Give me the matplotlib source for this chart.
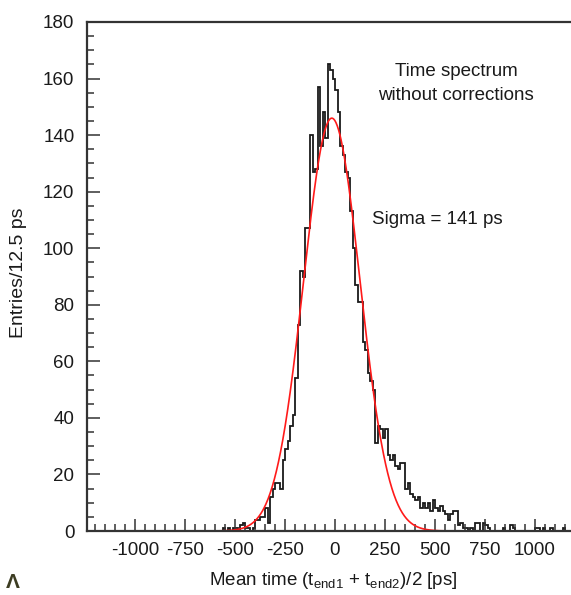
import numpy as np
import matplotlib
matplotlib.use("Agg")
import matplotlib.pyplot as plt
from matplotlib.ticker import MultipleLocator

plt.rcParams["font.family"] = ["Liberation Sans", "DejaVu Sans"]
plt.rcParams["axes.unicode_minus"] = False

# ── data ────────────────────────────────────────────────
bin_width = 12.5          # ps
first_edge = -600.0       # left edge of first listed bin
counts = [
    0, 0, 0, 1, 0, 1, 0, 1,            # -600 ..
    1, 0, 2, 3, 1, 1, 0, 1,            # -500 ..
    4, 4, 5, 5, 8, 3, 12, 15,          # -400 ..
    17, 17, 15, 25, 29, 32, 37, 41,    # -300 ..
    54, 73, 92, 90, 107, 107, 140, 127,  # -200 ..
    128, 157, 136, 148, 139, 165, 163, 160,  # -100 ..
    156, 148, 136, 133, 127, 125, 113, 100,  # 0 ..
    87, 81, 81, 67, 64, 56, 53, 50,    # 100 ..
    31, 37, 36, 33, 36, 27, 25, 27,    # 200 ..
    23, 22, 24, 24, 15, 17, 13, 12,    # 300 ..
    11, 12, 8, 10, 8, 10, 7, 11,       # 400 ..
    8, 7, 9, 7, 6, 4, 6, 7,            # 500 ..
    7, 2, 3, 1, 1, 0, 1, 0,            # 600 ..
    3, 3, 0, 3, 2, 1, 0, 0,            # 700 ..
    0, 0, 0, 1, 0, 0, 2, 1,            # 800 ..
    0, 0, 0, 0, 0, 0, 0, 0,            # 900 ..
    1, 1, 0, 1, 0, 0, 1, 0,            # 1000 ..
    0, 0, 0, 1,                        # 1100 ..
]

# gaussian fit parameters
fit_amp = 146.0
fit_mean = -16.0
fit_sigma = 141.0

x_range = (-1250.0, 1250.0)
x_ticks = [-1000, -750, -500, -250, 0, 250, 500, 750, 1000]

# ── histogram over the full range ──────────────────────
edges = np.arange(x_range[0], x_range[1] + bin_width / 2, bin_width)
full = np.zeros(len(edges) - 1)
i0 = int(round((first_edge - x_range[0]) / bin_width))
full[i0:i0 + len(counts)] = counts

xf = np.linspace(x_range[0], x_range[1], 1200)
yf = fit_amp * np.exp(-0.5 * ((xf - fit_mean) / fit_sigma) ** 2)

# ── figure ─────────────────────────────────────────────
W, H = 571, 595
fig = plt.figure(figsize=(W / 100, H / 100), dpi=100)

ax_l, ax_r, ax_t, ax_b = 87, 583, 22, 531
aw, ah = ax_r - ax_l, ax_b - ax_t
ax = fig.add_axes([ax_l / W, 1 - ax_b / H, aw / W, ah / H])

ax.stairs(full, edges, color="#1a1a1a", lw=1.3)
ax.plot(xf, yf, color="#ff1a1a", lw=1.2)

ax.set_xlim(-1240, 1240)
ax.set_ylim(0, 180)

ax.set_xticks(x_ticks)
ax.set_xticklabels([str(v) for v in x_ticks])
ax.xaxis.set_minor_locator(MultipleLocator(50))
ax.yaxis.set_major_locator(MultipleLocator(20))
ax.yaxis.set_minor_locator(MultipleLocator(5))

ax.tick_params(which="both", direction="in", top=False, right=False,
               colors="#333333", labelcolor="#1a1a1a", labelsize=13.5, width=1.1)
ax.tick_params(which="major", length=9)
ax.tick_params(which="minor", length=5)
ax.tick_params(axis="x", pad=8)
ax.tick_params(axis="y", pad=9)

for sp in ax.spines.values():
    sp.set_color("#333333")
    sp.set_linewidth(1.6)

ax.set_ylabel("Entries/12.5 ps", fontsize=14, color="#1a1a1a")
ax.set_xlabel(r"Mean time (t$_{\mathregular{end1}}$ + t$_{\mathregular{end2}}$)/2 [ps]",
              fontsize=13.5, color="#1a1a1a")
ax.yaxis.set_label_coords((27 - ax_l) / aw, (ax_b - 273) / ah)
ax.xaxis.set_label_coords((333 - ax_l) / aw, (ax_b - 570) / ah)

fig.text(456 / W, 1 - 72 / H, "Time spectrum", ha="center", va="center",
         fontsize=13.5, color="#1a1a1a")
fig.text(456 / W, 1 - 95 / H, "without corrections", ha="center", va="center",
         fontsize=13.5, color="#1a1a1a")
fig.text(437 / W, 1 - 220 / H, "Sigma = 141 ps", ha="center", va="center",
         fontsize=13.5, color="#1a1a1a")

# stray glyph at bottom-left of the original crop
fig.text(13 / W, 1 - 583 / H, "Λ", ha="center", va="center",
         fontsize=15, fontweight="bold", color="#3d3d22")

fig.savefig("out.png", dpi=100)
